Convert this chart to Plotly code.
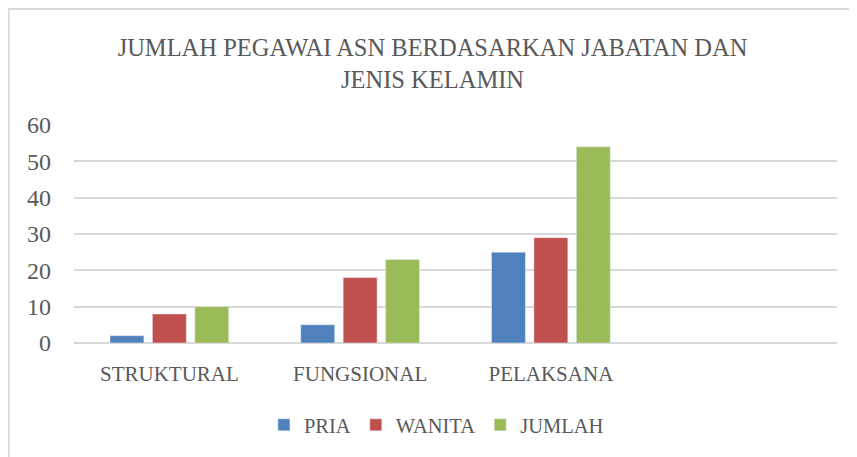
import plotly.graph_objects as go

categories = ["STRUKTURAL", "FUNGSIONAL", "PELAKSANA"]
pria = [2, 5, 25]
wanita = [8, 18, 29]
jumlah = [10, 23, 54]
y_ticks = [0, 10, 20, 30, 40, 50, 60]
title_lines = ["JUMLAH PEGAWAI ASN BERDASARKAN JABATAN DAN", "JENIS KELAMIN"]

FONT = "Liberation Serif"
TXT = "#595959"

fig = go.Figure()
fig.add_bar(name="PRIA", x=categories, y=pria, marker_color="#4F81BD")
fig.add_bar(name="WANITA", x=categories, y=wanita, marker_color="#C0504D")
fig.add_bar(name="JUMLAH", x=categories, y=jumlah, marker_color="#9BBB59")

fig.update_layout(
    width=849, height=449,
    margin=dict(l=66, r=20, t=117, b=114, autoexpand=False),
    paper_bgcolor="white", plot_bgcolor="white",
    barmode="group", bargap=0.333, bargroupgap=0.2,
    font=dict(family=FONT, color=TXT, size=20),
    title=dict(text="<br>".join(title_lines), x=0.5, xanchor="center",
               y=0.893, yanchor="top",
               font=dict(family=FONT, size=24.5, color=TXT)),
    legend=dict(orientation="h", x=0.475, xanchor="center", y=-0.376, yanchor="middle",
                font=dict(size=20.5, color=TXT), itemwidth=30, traceorder="normal"),
    xaxis=dict(type="category", range=[-0.5, 3.5], showgrid=False, ticks="",
               showline=False, ticklabelstandoff=16, tickfont=dict(size=21, color=TXT)),
    yaxis=dict(range=[0, 60], tickvals=y_ticks, showgrid=True, gridcolor="#D9D9D9",
               gridwidth=1.5, zeroline=True, zerolinecolor="#D9D9D9", zerolinewidth=1.5,
               ticks="", ticklabelstandoff=22, tickfont=dict(size=24, color=TXT)),
    shapes=[dict(type="rect", xref="paper", yref="paper",
                 x0=-0.0857, x1=1.2, y0=-1.0, y1=1.532,
                 line=dict(color="#D9D9D9", width=2), fillcolor="rgba(0,0,0,0)", layer="below")],
)

fig.write_html("out.html")
